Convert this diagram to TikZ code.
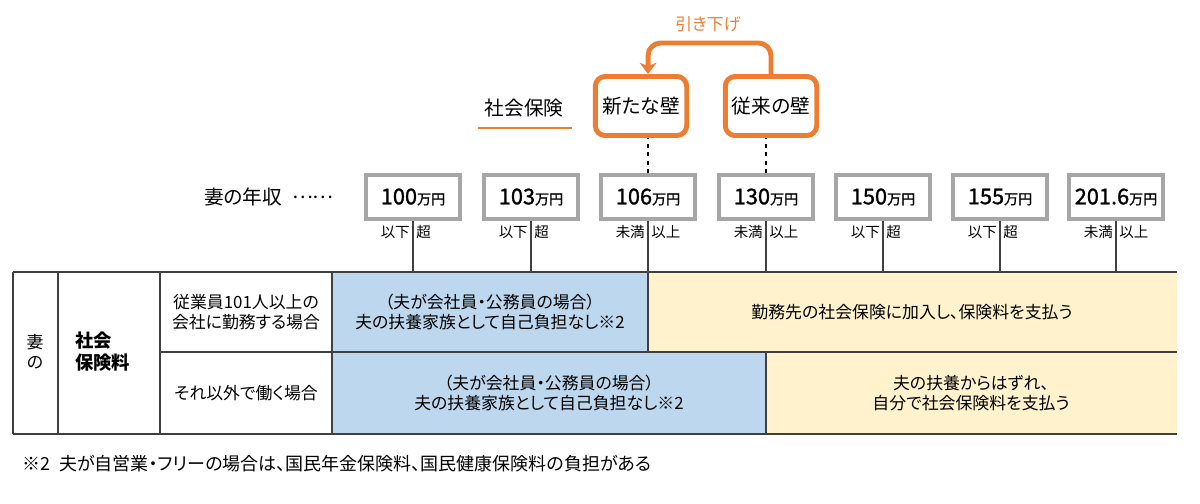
\documentclass[tikz,border=0pt]{standalone}
\usepackage{fontspec}
\setmainfont[RawFeature=+palt]{Noto Sans CJK JP}
\newfontfamily\numfont[FakeBold=1.2]{Noto Sans CJK JP}
\usetikzlibrary{positioning,arrows.meta}
\definecolor{wallorange}{HTML}{ED7D31}
\definecolor{boxgray}{HTML}{A6A6A6}
\definecolor{fuyoblue}{HTML}{BDD7EE}
\definecolor{hokenyellow}{HTML}{FFF2CC}
\definecolor{rulegray}{HTML}{404040}
\tikzset{
  wall/.style = {draw=wallorange, line width=3.5pt, rounded corners=7pt,
    fill=white, minimum width=65pt, minimum height=42pt, inner sep=0pt,
    font=\fontsize{14}{16}\selectfont},
  incbox/.style = {draw=boxgray, line width=2.8pt, minimum width=67pt,
    minimum height=31pt, inner sep=0pt, font=\numfont\fontsize{15.5}{17}\selectfont},
  sidelbl/.style = {inner sep=0pt, font=\fontsize{10.3}{12}\selectfont},
  cell/.style = {align=center, inner sep=0pt, font=\fontsize{12}{14}\selectfont},
  grid_l/.style = {draw=rulegray, line width=0.8pt}
}

\begin{document}
\begin{tikzpicture}[x=0.025cm, y=-0.025cm]
\useasboundingbox (0,0) rectangle (1200,504);

% walls
\node [wall] (newwall) at (641,106) {新たな壁};
\node [wall] (oldwall) at (771,106) {従来の壁};
\coordinate (turn) at (706,43);
\draw [-{Stealth[length=8pt,width=12pt,inset=2.5pt]}, draw=wallorange,
    line width=3.5pt, rounded corners=9pt]
  (oldwall.north) |- (turn) -| ([xshift=5]newwall.north);
\node [text=wallorange, font=\fontsize{12}{14}\selectfont] (hikisage) at (708,24) {引き下げ};
\node [font=\fontsize{14}{16}\selectfont] (hoken) at (524,108) {社会保険};
\draw [wallorange, line width=1.5pt] (478,128) -- (572,128);

% income boxes
\node [font=\fontsize{14}{16}\selectfont] (nenshu) at (269,197)
  {妻の年収\enspace\raisebox{0.3em}{……}};
\foreach \x/\nm/\val/\l/\r in {413/a/100/以下/超, 531/b/103/以下/超,
    648/c/106/未満/以上, 766/d/130/未満/以上, 883/e/150/以下/超,
    1000/f/155/以下/超, 1116/g/201.6/未満/以上}{
  \node [incbox] (b\nm) at (\x,197) {\val{\fontsize{10}{11}\selectfont 万円}};
  \coordinate (t\nm) at (\x,272);
  \draw [rulegray, line width=0.8pt] (b\nm.south) -- (t\nm);
  \node [sidelbl, anchor=east] at (\x-3,232) {\l};
  \node [sidelbl, anchor=west] at (\x+3,232) {\r};
}
\draw [dashed, line width=1.2pt] (bc.north) -- (bc.north |- newwall.south);
\draw [dashed, line width=1.2pt] (bd.north) -- (bd.north |- oldwall.south);

% table
\fill [fuyoblue] (332,272) rectangle (648,352);
\fill [hokenyellow] (648,272) rectangle (1177,352);
\fill [fuyoblue] (332,352) rectangle (766,434);
\fill [hokenyellow] (766,352) rectangle (1177,434);
\draw [grid_l] (13,272) -- (1177,272);
\draw [grid_l] (160,352) -- (1177,352);
\draw [grid_l] (13,434) -- (1177,434);
\foreach \x in {13,58,160,332}
  \draw [grid_l] (\x,272) -- (\x,434);
\draw [grid_l] (648,272) -- (648,352);
\draw [grid_l] (766,352) -- (766,434);

\node [cell] (tsuma) at (35,352) {妻\\の};
\node [cell, align=left, anchor=west, font=\fontsize{13}{15.5}\selectfont\bfseries]
  (shahoryo) at (75,352) {社会\\保険料};
\node [cell] (row1) at (246,312) {従業員101人以上の\\会社に勤務する場合};
\node [cell] (row2) at (246,393) {それ以外で働く場合};
\node [cell] (fuyo1) at (490,312) {（夫が会社員・公務員の場合）\\夫の扶養家族として自己負担なし※2};
\node [cell] (kanyu1) at (912,312) {勤務先の社会保険に加入し、保険料を支払う};
\node [cell] (fuyo2) at (549,393) {（夫が会社員・公務員の場合）\\夫の扶養家族として自己負担なし※2};
\node [cell] (kanyu2) at (971,393) {夫の扶養からはずれ、\\自分で社会保険料を支払う};

\node [anchor=west, inner sep=0pt, font=\fontsize{12.8}{14}\selectfont] (chu) at (22,464)
  {※2\enspace 夫が自営業・フリーの場合は、国民年金保険料、国民健康保険料の負担がある};
\end{tikzpicture}
\end{document}
